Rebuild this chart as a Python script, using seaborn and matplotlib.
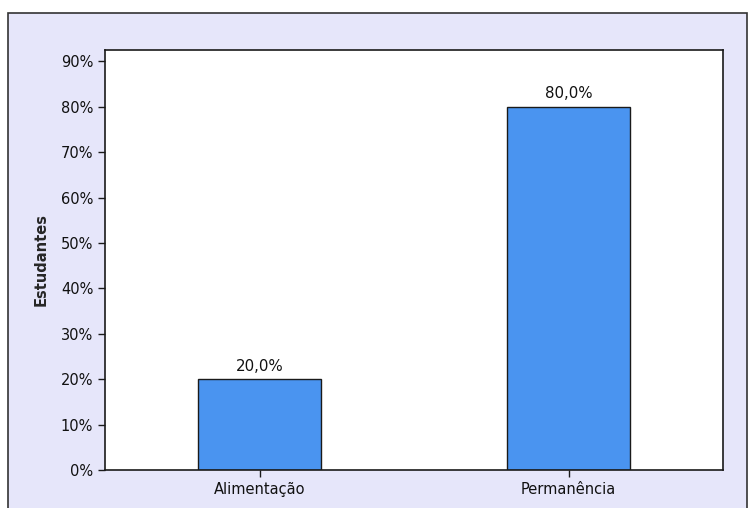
import matplotlib
matplotlib.use('Agg')
import matplotlib.pyplot as plt
import seaborn as sns
import pandas as pd
from matplotlib.patches import Rectangle
from matplotlib.ticker import FuncFormatter

# valores
categorias = ['Alimentação', 'Permanência']
percentuais = [20.0, 80.0]

df = pd.DataFrame({'categoria': categorias, 'pct': percentuais})

sns.set_style('white')
plt.rcParams['font.family'] = ['DejaVu Sans']

fig = plt.figure(figsize=(7.48, 5.08), dpi=100)
fig.patch.set_facecolor('white')

# moldura lilás do fundo
frame = Rectangle((7.5 / 748, -0.05), 739 / 748, 1 - 13.5 / 508 + 0.05,
                  transform=fig.transFigure, facecolor='#E6E6FA',
                  edgecolor='#333333', linewidth=1.2, zorder=-10)
fig.patches.append(frame)

ax = fig.add_axes([105 / 748, 38 / 508, 618 / 748, 420 / 508])
ax.set_facecolor('white')

sns.barplot(data=df, x='categoria', y='pct', color='#4A94F0', width=0.4,
            saturation=1, edgecolor='#1a1a1a', linewidth=1, ax=ax)

for i, v in enumerate(percentuais):
    ax.text(i, v + 1.2, f'{v:.1f}%'.replace('.', ','), ha='center', va='bottom',
            fontsize=10.8, color='#111111')

ax.set_xlim(-0.5, 1.5)
ax.set_ylim(0, 92.5)
ax.set_yticks(range(0, 91, 10))
ax.yaxis.set_major_formatter(FuncFormatter(lambda y, _: f'{int(y)}%'))
ax.set_xlabel('')
ax.set_ylabel('Estudantes', fontsize=10.5, fontweight='bold', labelpad=9)

for s in ax.spines.values():
    s.set_visible(True)
    s.set_color('#1a1a1a')
    s.set_linewidth(1.2)

ax.tick_params(axis='both', which='major', direction='out', length=5, width=1,
               color='#1a1a1a', labelsize=10.5, labelcolor='#111111',
               left=True, bottom=True)

fig.savefig('out.png', dpi=100)
